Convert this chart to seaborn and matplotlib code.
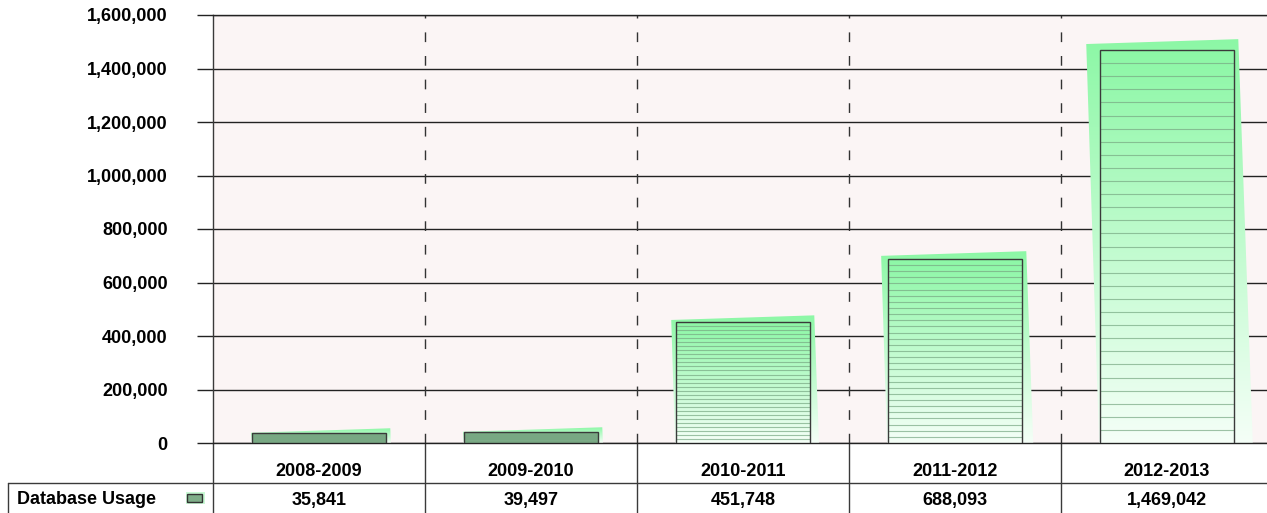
import numpy as np
import matplotlib
matplotlib.use('Agg')
import matplotlib.pyplot as plt
import matplotlib.transforms as mtrans
from matplotlib.patches import Polygon, Rectangle
from matplotlib.lines import Line2D
from matplotlib.ticker import FuncFormatter
import seaborn as sns

# --- data ---
seasons = ['2008-2009', '2009-2010', '2010-2011', '2011-2012', '2012-2013']
usage = [35841, 39497, 451748, 688093, 1469042]
series_name = 'Database Usage'
y_ticks = [0, 200000, 400000, 600000, 800000, 1000000, 1200000, 1400000, 1600000]

W, H = 1267, 513
TOP_GREEN = np.array([0.55, 0.97, 0.65])
BOTTOM_WHITE = np.array([0.96, 1.0, 0.97])


def gradient(n=256):
    t = np.linspace(0, 1, n)[:, None]
    rows = BOTTOM_WHITE * (1 - t) + TOP_GREEN * t
    return rows[:, None, :]


sns.set_theme(style='white')
plt.rcParams['font.family'] = ['Liberation Sans', 'DejaVu Sans']
plt.rcParams['font.weight'] = 'bold'

fig = plt.figure(figsize=(W / 100, H / 100), dpi=100)
ax = fig.add_axes([213 / W, 70 / H, 1060 / W, 428 / H])
ax.set_facecolor('#FBF5F5')

sns.barplot(x=seasons, y=usage, width=0.63, color='white', ax=ax, zorder=4)
ax.set_xlim(-0.5, len(seasons) - 0.5)
ax.set_ylim(y_ticks[0], y_ticks[-1])
ax.set_autoscale_on(False)

to_px = ax.transData
to_data = ax.transData.inverted()
grad = gradient()

for p in ax.patches:
    x0, w, h = p.get_x(), p.get_width(), p.get_height()
    p.set_facecolor('none')
    p.set_edgecolor('#3a3a3a')
    p.set_linewidth(1)

    # slightly skewed glow behind each bar, built in pixel space
    (L, B), (R, T) = to_px.transform([(x0, 0), (x0 + w, h)])
    hp = T - B
    corners = [
        (L - 1 - 0.033 * hp, T + 0.5 + 0.014 * hp),
        (R + 4.5, T + 5 + 0.015 * hp),
        (R + 5 + 0.036 * hp, B - 4),
        (L - 1, B - 4),
    ]
    shadow = Polygon(to_data.transform(corners), closed=True,
                     facecolor='none', edgecolor='none')
    ax.add_patch(shadow)
    sx = shadow.get_xy()[:, 0]
    sy = shadow.get_xy()[:, 1]
    im = ax.imshow(grad, extent=(sx.min(), sx.max(), 0, sy.max()),
                   origin='lower', aspect='auto', zorder=2, interpolation='bilinear')
    im.set_clip_path(shadow)

    # bar body gradient
    ax.imshow(grad, extent=(x0, x0 + w, 0, h), origin='lower',
              aspect='auto', zorder=3, interpolation='bilinear')

    # horizontal hatch lines
    ys = np.linspace(0, h, 31)[1:-1]
    ax.hlines(ys, x0, x0 + w, colors='#78a883', alpha=0.7, lw=0.8, zorder=3.5)

ax.set_xlim(-0.5, len(seasons) - 0.5)
ax.set_ylim(y_ticks[0], y_ticks[-1])

# grid and axes
ax.set_axisbelow(True)
ax.set_yticks(y_ticks)
ax.yaxis.set_major_formatter(FuncFormatter(lambda v, _: f'{v:,.0f}'))
ax.yaxis.grid(True, color='#222222', lw=1)
ax.xaxis.grid(False)
ax.tick_params(axis='y', left=True, direction='out', length=11.5, width=1,
               color='#222222', pad=21, labelsize=13, labelcolor='black')
ax.set_xticks(range(len(seasons)))
ax.set_xticklabels([])
ax.tick_params(axis='x', length=0)
ax.set_xlabel('')
ax.set_ylabel('')
for lab in ax.get_yticklabels():
    lab.set_fontweight('bold')

for b in np.arange(0.5, len(seasons) - 0.5):
    ax.axvline(b, color='#333333', lw=1, ls=(0, (7, 10)), zorder=1)

ax.spines['left'].set_color('#3a3a3a')
ax.spines['top'].set_color('#222222')
ax.spines['bottom'].set_color('#222222')
ax.spines['right'].set_visible(False)
for s in ax.spines.values():
    s.set_linewidth(1)

# --- data table under the plot ---
blend = mtrans.blended_transform_factory(ax.transData, fig.transFigure)
for b in np.arange(-0.5, len(seasons) - 0.5):
    ax.add_line(Line2D([b, b], [0, 70 / H], transform=blend, color='#3a3a3a',
                       lw=1, clip_on=False))
fig.add_artist(Line2D([8 / W, 1], [30 / H, 30 / H], color='#3a3a3a', lw=1))
fig.add_artist(Line2D([8 / W, 8 / W], [0, 30 / H], color='#3a3a3a', lw=1))

for i, (season, val) in enumerate(zip(seasons, usage)):
    ax.text(i, (H - 472) / H, season, transform=blend, ha='center', va='center',
            fontsize=13, fontweight='bold', color='black')
    ax.text(i, (H - 500) / H, f'{val:,}', transform=blend, ha='center', va='center',
            fontsize=13, fontweight='bold', color='black')

fig.text(17 / W, (H - 500) / H, series_name, ha='left', va='center',
         fontsize=13, fontweight='bold', color='black')
fig.add_artist(Rectangle((186 / W, (H - 504) / H), 19 / W, 12 / H,
                         transform=fig.transFigure, facecolor='#c9f9d4', edgecolor='none'))
fig.add_artist(Rectangle((187 / W, (H - 502) / H), 15 / W, 8 / H,
                         transform=fig.transFigure, facecolor='#7fae89',
                         edgecolor='#333333', lw=1))

fig.savefig('out.png', dpi=100)
